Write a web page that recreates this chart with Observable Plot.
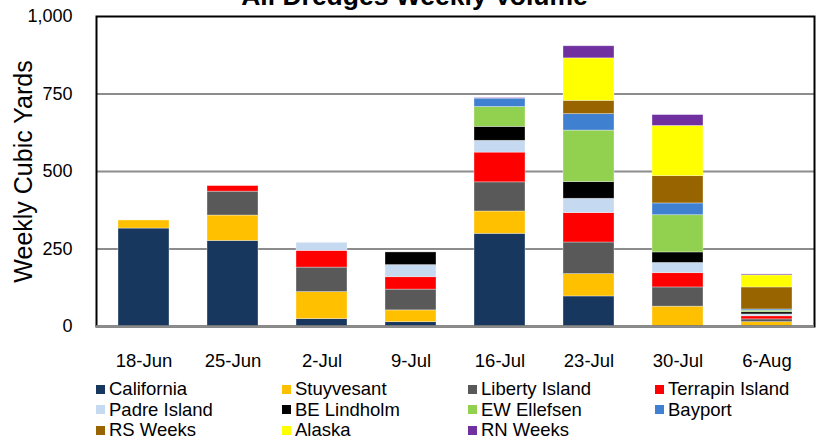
<!DOCTYPE html>
<html><head><meta charset="utf-8">
<script src="https://cdn.jsdelivr.net/npm/d3@7"></script>
<script src="https://cdn.jsdelivr.net/npm/@observablehq/plot@0.6"></script>
<style>
body{margin:0;background:#fff;overflow:hidden;font-family:"Liberation Sans",Arial,sans-serif;color:#000;}
#wrap{position:relative;width:818px;height:439px;overflow:hidden;}
#title{position:absolute;left:0;width:829px;top:-19px;text-align:center;font-weight:bold;font-size:26.5px;line-height:30px;}
#chart{position:absolute;left:0;top:0;}
#legend{position:absolute;left:96px;top:379px;display:grid;grid-template-columns:186px 186px 187px 160px;font-size:18.5px;line-height:20.5px;}
.item{display:flex;align-items:center;white-space:nowrap;}
.sw{width:9px;height:9px;margin-right:4px;flex:none;}
</style></head>
<body>
<div id="wrap">
  <div id="chart"></div>
  <div id="title">All Dredges Weekly Volume</div>
  <div id="legend"></div>
</div>
<script>
const weeks = ["18-Jun","25-Jun","2-Jul","9-Jul","16-Jul","23-Jul","30-Jul","6-Aug"];
const seriesNames = ["California","Stuyvesant","Liberty Island","Terrapin Island","Padre Island","BE Lindholm","EW Ellefsen","Bayport","RS Weeks","Alaska","RN Weeks"];
const seriesColors = ["#17375E","#FFC000","#595959","#FF0000","#C5D9F1","#000000","#92D050","#4080D0","#976400","#FFFF00","#7030A0"];
const yTicks = [0, 250, 500, 750, 1000];
const yLabel = "Weekly Cubic Yards";

const california     = [316, 276, 24, 14, 299, 97, 0, 0];
const stuyvesant     = [26, 82, 87, 38, 72, 72, 64, 14];
const libertyIsland  = [0, 77, 79, 67, 94, 102, 62, 9];
const terrapinIsland = [0, 18, 54, 40, 96, 95, 46, 10];
const padreIsland    = [0, 0, 26, 39, 38, 46, 33, 6];
const beLindholm     = [0, 0, 0, 41, 45, 54, 34, 7];
const ewEllefsen     = [0, 0, 0, 0, 64, 166, 120, 5];
const bayport        = [0, 0, 0, 0, 27, 53, 38, 4];
const rsWeeks        = [0, 0, 0, 0, 0, 43, 88, 71];
const alaska         = [0, 0, 0, 0, 0, 137, 162, 39];
const rnWeeks        = [0, 0, 0, 0, 2, 39, 35, 3];

const seriesValues = [california, stuyvesant, libertyIsland, terrapinIsland, padreIsland, beLindholm, ewEllefsen, bayport, rsWeeks, alaska, rnWeeks];

const rows = [];
seriesNames.forEach((name, si) => {
  weeks.forEach((w, wi) => {
    const v = seriesValues[si][wi];
    if (v > 0) rows.push({week: w, series: name, value: v});
  });
});

const fmt = d3.format(",");

const chart = Plot.plot({
  width: 818, height: 378,
  marginLeft: 96, marginRight: 4, marginTop: 16, marginBottom: 52,
  style: {fontFamily: "Liberation Sans, Arial, sans-serif", fontSize: "18px", color: "#000", background: "transparent"},
  x: {domain: weeks, paddingInner: 0.43, paddingOuter: 0.215, label: null},
  y: {domain: [0, 1000], label: null},
  color: {domain: seriesNames, range: seriesColors},
  marks: [
    Plot.ruleY(yTicks.slice(1, -1), {stroke: "#8c8c8c", strokeWidth: 2}),
    Plot.barY(rows, {x: "week", y: "value", fill: "series", stroke: "#ffffff", strokeOpacity: 0.45, strokeWidth: 0.75}),
    Plot.frame({stroke: "#000", strokeWidth: 2}),
    Plot.ruleY([0], {stroke: "#8c8c8c", strokeWidth: 2.5}),
    Plot.axisX({tickSize: 0, tickPadding: 27, fontSize: 18.5}),
    Plot.axisY({ticks: yTicks, tickSize: 0, tickPadding: 24, tickFormat: d => fmt(d), fontSize: 18}),
    Plot.text([yLabel], {frameAnchor: "left", textAnchor: "middle", lineAnchor: "middle", rotate: -90, dx: -73, fontSize: 25, fill: "#000"})
  ]
});
document.getElementById("chart").appendChild(chart);

const legend = document.getElementById("legend");
seriesNames.forEach((name, i) => {
  const item = document.createElement("div");
  item.className = "item";
  const sw = document.createElement("span");
  sw.className = "sw";
  sw.style.background = seriesColors[i];
  const t = document.createElement("span");
  t.textContent = name;
  item.appendChild(sw);
  item.appendChild(t);
  legend.appendChild(item);
});
</script>
</body></html>
